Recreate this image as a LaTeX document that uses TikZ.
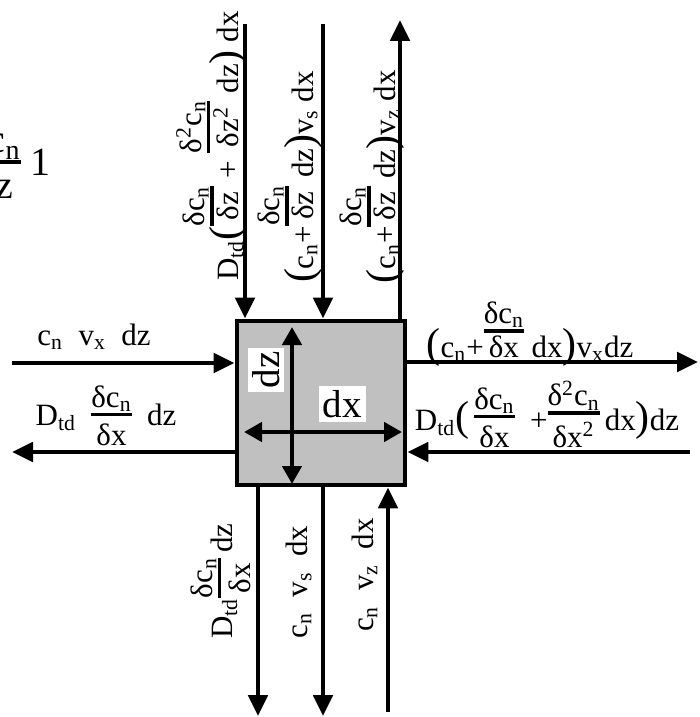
\documentclass[tikz,border=0pt]{standalone}
\usepackage{amsmath}
\usepackage{fontspec}
\setmainfont{Liberation Serif}
\usepackage{tikz}
\usetikzlibrary{arrows.meta, calc}
\definecolor{mydark}{RGB}{0,0,0}
\definecolor{boxgray}{RGB}{192,192,192}
\newcommand{\sbs}[1]{\textsubscript{#1}}
\newcommand{\sps}[1]{\textsuperscript{#1}}
% fraction standing on the baseline
\newcommand{\fr}[2]{\vbox{\offinterlineskip
  \ialign{\hfil##\hfil\cr #1\cr\noalign{\kern0.6pt\hrule height1.9pt\kern1.4pt}#2\cr}}}
% fraction hanging below the baseline
\newcommand{\frl}[3][-10pt]{\raisebox{#1}{\vbox{\offinterlineskip
  \ialign{\hfil##\hfil\cr #2\cr\noalign{\kern0.6pt\hrule height1.9pt\kern3.5pt}#3\cr}}}}
\newcommand{\bpl}{\smash{\fontsize{21}{21}\selectfont(}}
\newcommand{\bpr}{\smash{\fontsize{21}{21}\selectfont)}}
\tikzset{
  flow/.style={-{Triangle[length=10.5pt,width=9.5pt]}, line width=2.4pt, color=mydark},
  twoway/.style={{Triangle[length=9pt,width=9.5pt]}-{Triangle[length=9pt,width=9.5pt]},
    line width=2.4pt, color=mydark},
  cell/.style={rectangle, draw=mydark, fill=boxgray, line width=2.4pt,
    minimum width=84pt, minimum height=82pt, inner sep=0pt},
  lbl/.style={fill=white, inner sep=0pt, text depth=0pt, font=\fontsize{15.5}{18}\selectfont},
  vlbl/.style={lbl, rotate=90},
  biglbl/.style={fill=white, inner sep=2pt, font=\fontsize{19.5}{22}\selectfont}
}

\begin{document}
\begin{tikzpicture}[x=0.5pt, y=-0.5pt]
  \useasboundingbox (0,0) rectangle (700,717);
  \clip (0,0) rectangle (700,717);

  \node[cell] (cv) at (321,403) {};

  \coordinate (t1) at (245,24);
  \coordinate (t2) at (323,24);
  \coordinate (t3) at (400,20);
  \coordinate (l1) at (12,363);
  \coordinate (l2) at (12,452);
  \coordinate (r1) at (698,362);
  \coordinate (r2) at (690,452);
  \coordinate (b1) at (258,716);
  \coordinate (b2) at (323,716);
  \coordinate (b3) at (388,712);

  \draw[flow] (t1) -- (t1 |- cv.north);
  \draw[flow] (t2) -- (t2 |- cv.north);
  \draw[flow] (t3 |- cv.north) -- (t3);
  \draw[flow] (l1) -- (l1 -| cv.west);
  \draw[flow] (l2 -| cv.west) -- (l2);
  \draw[flow] (r1 -| cv.east) -- (r1);
  \draw[flow] (r2) -- (r2 -| cv.east);
  \draw[flow] (b1 |- cv.south) -- (b1);
  \draw[flow] (b2 |- cv.south) -- (b2);
  \draw[flow] (b3) -- (b3 |- cv.south);

  \coordinate (zt) at (292,327);
  \coordinate (zb) at (292,484);
  \coordinate (xl) at (244,432);
  \coordinate (xr) at (402,432);
  \draw[twoway] (zt) -- (zb);
  \draw[twoway] (xl) -- (xr);
  \node[biglbl, rotate=90] (dz) at (266,370) {dz};
  \node[biglbl] (dx) at (342,404) {dx};

  \node[lbl, font=\fontsize{20}{24}\selectfont, fill=none, anchor=base east] (cut) at (51,175)
    {\frl[-12pt]{δc\sbs{n}}{δz}\ 1};

  \node[vlbl, anchor=base] (top1) at (238,146)
    {D\sbs{td}\bpl\fr{δc\sbs{n}}{δz}\ + \fr{δ\sps{2}c\sbs{n}}{δz\sps{2}}\ dz\bpr\ dx};
  \node[vlbl, anchor=base] (top2) at (313,177)
    {\bpl c\sbs{n}+\fr{δc\sbs{n}}{δz}\ dz\bpr v\sbs{s}\ dx};
  \node[vlbl, anchor=base] (top3) at (395,177)
    {\bpl c\sbs{n}+\fr{δc\sbs{n}}{δz}\ dz\bpr v\sbs{z}\ dx};

  \node[lbl, anchor=base] (lft1) at (94,345) {c\sbs{n}\enspace v\sbs{x}\enspace dz};
  \node[lbl, anchor=base] (lft2) at (106,425) {D\sbs{td}\enspace\frl{δc\sbs{n}}{δx}\enspace dz};

  \node[lbl, anchor=base] (rgt1) at (530,357)
    {\bpl c\sbs{n}+\fr{δc\sbs{n}}{δx}\ dx\bpr v\sbs{x}dz};
  \node[lbl, anchor=base] (rgt2) at (547,430)
    {D\sbs{td}\bpl\,\frl[-8.5pt]{δc\sbs{n}}{δx}\ \ +\frl[-8.5pt]{δ\sps{2}c\sbs{n}}{δx\sps{2}}\,dx\bpr dz};

  \node[vlbl, anchor=base] (bot1) at (232,581) {D\sbs{td}\frl[-9pt]{δc\sbs{n}}{δx}\,dz};
  \node[vlbl, anchor=base] (bot2) at (307,582) {c\sbs{n}\enspace v\sbs{s}\enspace dx};
  \node[vlbl, anchor=base] (bot3) at (373,575) {c\sbs{n}\enspace v\sbs{z}\enspace dx};
\end{tikzpicture}
\end{document}
